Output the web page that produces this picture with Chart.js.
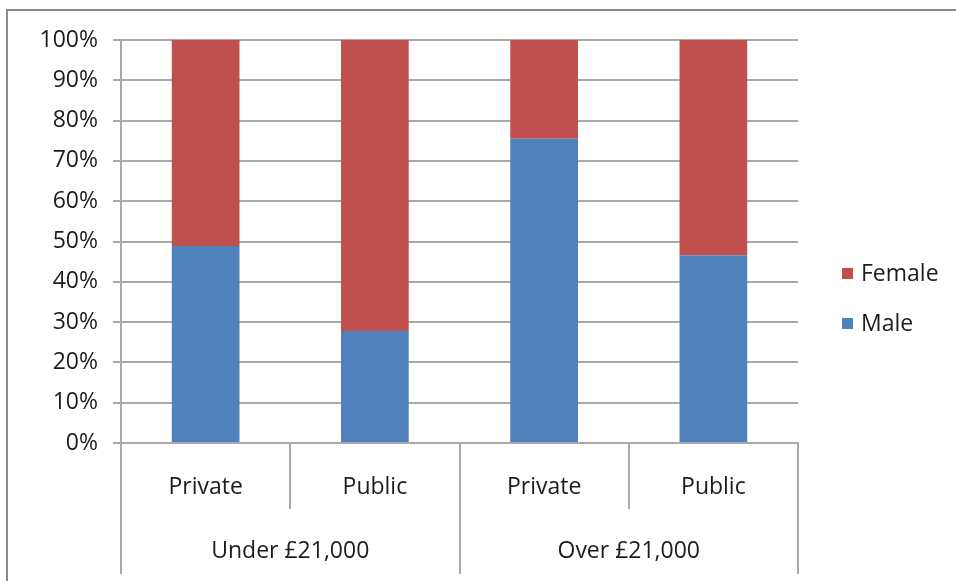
<!DOCTYPE html>
<html>
<head>
<meta charset="utf-8">
<script src="https://cdn.jsdelivr.net/npm/chart.js@4"></script>
<style>
  html, body { margin: 0; padding: 0; background: #fff; overflow: hidden; }
</style>
</head>
<body>
<canvas id="salaryChart" width="956" height="581"></canvas>
<script>
// Share of men and women by sector within each salary band
const sectors = ['Private', 'Public', 'Private', 'Public'];
const salaryBands = ['Under £21,000', 'Over £21,000'];
const maleShare = [48.9, 27.8, 75.5, 46.6];
const femaleShare = [51.1, 72.2, 24.5, 53.4];
const seriesNames = ['Male', 'Female'];
const seriesColors = ['#4F81BD', '#C0504D'];

const gridGray = '#a9a9a9';
const textColor = '#1c1c1c';
const fontFamily = '"Open Sans", Lato, sans-serif';

// thin frame round the whole chart
const chartFrame = {
    id: 'chartFrame',
    beforeDraw(chart) {
        const ctx = chart.ctx;
        ctx.save();
        ctx.strokeStyle = '#8c8c8c';
        ctx.lineWidth = 2;
        ctx.strokeRect(7, 10, 2000, 2000);
        ctx.restore();
    }
};

// legend on the right, last series first
const sideLegend = {
    id: 'sideLegend',
    afterDraw(chart) {
        const ctx = chart.ctx;
        const items = chart.data.datasets.slice().reverse();
        const x = chart.chartArea.right + 44;
        let y = 274;
        ctx.save();
        ctx.font = '23px ' + fontFamily;
        ctx.textBaseline = 'middle';
        items.forEach(ds => {
            ctx.fillStyle = ds.backgroundColor;
            ctx.fillRect(x, y - 6, 11, 11);
            ctx.fillStyle = textColor;
            ctx.fillText(ds.label, x + 19, y);
            y += 50;
        });
        ctx.restore();
    }
};

const ctx = document.getElementById('salaryChart').getContext('2d');
new Chart(ctx, {
    type: 'bar',
    data: {
        labels: sectors,
        datasets: [
            { label: seriesNames[0], data: maleShare, backgroundColor: seriesColors[0] },
            { label: seriesNames[1], data: femaleShare, backgroundColor: seriesColors[1] }
        ]
    },
    options: {
        responsive: false,
        animation: false,
        layout: { padding: { top: 40, right: 158, left: 0, bottom: 0 } },
        datasets: {
            bar: { categoryPercentage: 1, barPercentage: 0.4 }
        },
        plugins: {
            legend: { display: false },
            tooltip: { enabled: false }
        },
        scales: {
            x: {
                stacked: true,
                grid: { offset: true, drawOnChartArea: false, tickLength: 66, color: gridGray, lineWidth: 2 },
                border: { color: gridGray, width: 2 },
                ticks: { padding: -35, color: textColor, font: { family: fontFamily, size: 23 } },
                afterFit(scale) { scale.height = 56; }
            },
            x2: {
                type: 'category',
                labels: salaryBands,
                position: 'bottom',
                offset: true,
                grid: { offset: true, drawOnChartArea: false, tickLength: 75, color: gridGray, lineWidth: 2 },
                border: { display: false },
                ticks: { padding: -36, color: textColor, font: { family: fontFamily, size: 23 } },
                afterFit(scale) { scale.height = 82; }
            },
            y: {
                stacked: true,
                min: 0,
                max: 100,
                ticks: {
                    stepSize: 10,
                    padding: 15,
                    color: textColor,
                    font: { family: fontFamily, size: 23 },
                    callback: v => v + '%'
                },
                grid: { color: gridGray, lineWidth: 2, tickLength: 8 },
                border: { color: gridGray, width: 2 },
                afterFit(scale) { scale.width = 121; }
            }
        }
    },
    plugins: [chartFrame, sideLegend]
});
</script>
</body>
</html>
